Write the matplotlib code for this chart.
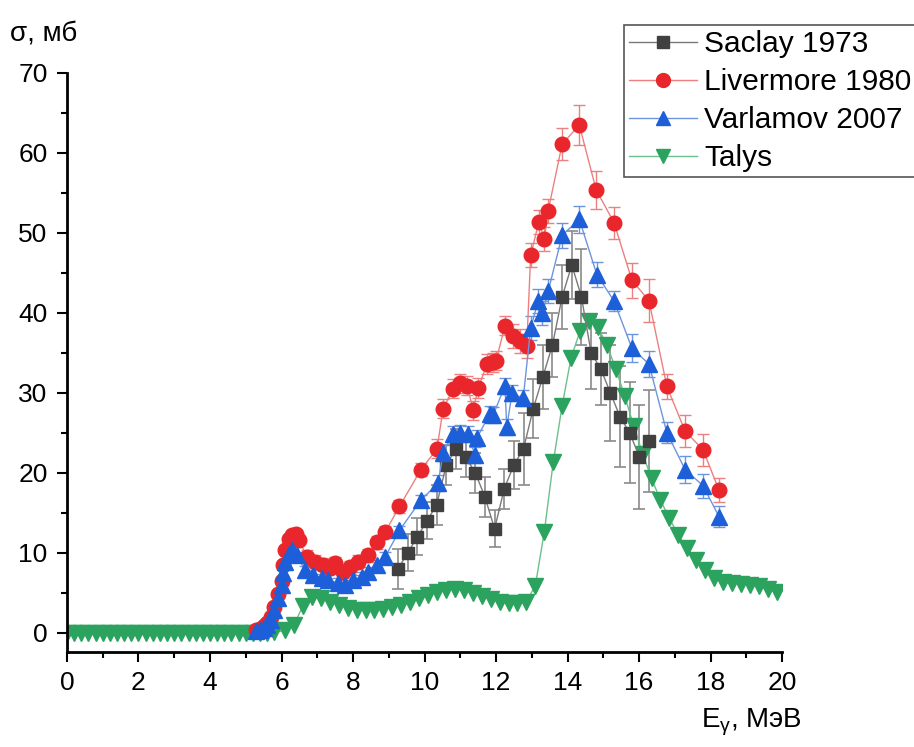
import matplotlib
matplotlib.use("Agg")
import matplotlib.pyplot as plt
from matplotlib.ticker import MultipleLocator

plt.rcParams['font.family'] = ['Liberation Sans', 'DejaVu Sans']

# Saclay 1973
saclay_e = [9.26, 9.53, 9.8, 10.07, 10.34, 10.61, 10.88, 11.15, 11.42, 11.69, 11.96,
            12.23, 12.5, 12.77, 13.04, 13.31, 13.58, 13.85, 14.12, 14.39, 14.66, 14.93,
            15.2, 15.47, 15.74, 16.01, 16.28]
saclay_s = [8, 10, 12, 14, 16, 21, 23, 22, 20, 17, 13,
            18, 21, 23, 28, 32, 36, 42, 46, 42, 35, 33,
            30, 27, 25, 22, 24]
saclay_err = [2.5, 2.3, 2.3, 2.3, 2.5, 2.5, 2.5, 2.5, 2.5, 2.5, 2.3,
              2.5, 3, 4.5, 3.7, 4, 4, 4, 4.2, 6, 4.5, 4.5,
              6, 6.3, 6.3, 6.5, 6.4]

# Livermore 1980
liv_e = [5.3, 5.4, 5.5, 5.6, 5.7, 5.8, 5.9, 6.0, 6.05, 6.1, 6.2, 6.3, 6.4, 6.5,
         6.7, 6.94, 7.17, 7.36, 7.5, 7.72, 7.92, 8.15, 8.42, 8.67, 8.9, 9.3, 9.9,
         10.35, 10.52, 10.8, 11.0, 11.2, 11.36, 11.5, 11.75, 11.92, 12.0, 12.25,
         12.48, 12.67, 12.86, 12.97, 13.2, 13.35, 13.46, 13.85, 14.33, 14.8, 15.3,
         15.8, 16.28, 16.78, 17.29, 17.79, 18.24]
liv_s = [0.3, 0.5, 0.8, 1.2, 2.0, 3.2, 4.8, 6.5, 8.5, 10.3, 11.7, 12.2, 12.4, 11.6,
         9.5, 8.9, 8.5, 8.1, 8.7, 7.6, 8.2, 8.9, 9.7, 11.3, 12.6, 15.8, 20.4,
         23.0, 28.0, 30.5, 31.2, 30.9, 27.8, 30.6, 33.6, 33.8, 34.0, 38.4,
         37.1, 36.5, 35.9, 47.2, 51.4, 49.2, 52.8, 61.1, 63.5, 55.4, 51.3,
         44.1, 41.5, 30.8, 25.2, 22.9, 17.8]
liv_err = [0.5, 0.5, 0.5, 0.5, 0.5, 0.5, 0.5, 0.5, 0.5, 0.5, 0.5, 0.5, 0.5, 0.5,
           0.8, 0.8, 0.8, 0.8, 0.8, 0.8, 0.8, 0.8, 0.8, 0.8, 0.8, 0.8, 0.8,
           1.2, 1.2, 1.2, 1.2, 1.2, 1.2, 1.2, 1.2, 1.2, 1.2, 1.2,
           1.5, 1.5, 1.5, 1.5, 1.5, 1.5, 1.5, 2.0, 2.5, 2.4, 2.0,
           2.2, 2.7, 1.6, 2.0, 2.0, 1.5]

# Varlamov 2007
var_e = [5.3, 5.4, 5.5, 5.6, 5.7, 5.8, 5.9, 6.0, 6.05, 6.1, 6.2, 6.3, 6.43,
         6.66, 6.88, 7.13, 7.3, 7.58, 7.78, 8.0, 8.25, 8.42, 8.67, 8.9, 9.3, 9.9,
         10.38, 10.52, 10.8, 11.0, 11.22, 11.41, 11.47, 11.83, 11.92, 12.25, 12.3,
         12.45, 12.76, 12.97, 13.18, 13.3, 13.46, 13.85, 14.33, 14.82, 15.3, 15.8,
         16.28, 16.78, 17.29, 17.79, 18.24]
var_s = [0.2, 0.4, 0.6, 1.0, 1.6, 2.8, 4.3, 6.0, 7.5, 8.8, 9.8, 10.3, 9.7,
         7.8, 7.2, 6.8, 6.6, 6.2, 6.0, 6.6, 7.0, 7.6, 8.5, 9.5, 12.8, 16.6,
         18.7, 22.5, 24.9, 25.0, 24.9, 22.2, 24.4, 27.4, 27.2, 30.9, 25.7,
         30.0, 29.3, 38.1, 41.5, 40.0, 42.7, 49.7, 51.7, 44.8, 41.5, 35.6,
         33.6, 25.0, 20.4, 18.4, 14.5]
var_err = [0.4, 0.4, 0.4, 0.4, 0.4, 0.4, 0.4, 0.4, 0.4, 0.4, 0.4, 0.4, 0.4,
           0.6, 0.6, 0.6, 0.6, 0.6, 0.6, 0.6, 0.6, 0.6, 0.6, 0.6, 0.6, 0.6,
           1.0, 1.0, 1.0, 1.0, 1.0, 1.0, 1.0, 1.0, 1.0, 1.0, 1.0,
           1.0, 1.0, 1.5, 1.5, 1.5, 1.5, 1.6, 1.7, 1.6, 1.3, 1.8,
           1.6, 1.3, 1.7, 1.5, 1.3]

# Talys
talys_e = [0.0, 0.2, 0.4, 0.6, 0.8, 1.0, 1.2, 1.4, 1.6, 1.8, 2.0, 2.2, 2.4, 2.6,
           2.8, 3.0, 3.2, 3.4, 3.6, 3.8, 4.0, 4.2, 4.4, 4.6, 4.8, 5.0, 5.2, 5.4,
           5.6, 5.8, 6.1, 6.35,
           6.6, 6.85, 7.1, 7.35, 7.6, 7.85, 8.1, 8.35, 8.6, 8.85, 9.1, 9.35, 9.6,
           9.85, 10.1, 10.35, 10.6, 10.85, 11.1, 11.35, 11.6, 11.85, 12.1, 12.35,
           12.6, 12.85, 13.1, 13.35, 13.6, 13.85, 14.1, 14.35, 14.6, 14.85, 15.1,
           15.35, 15.6, 15.85, 16.1, 16.35, 16.6, 16.85, 17.1, 17.35, 17.6, 17.85,
           18.1, 18.35, 18.6, 18.85, 19.1, 19.35, 19.6, 19.85]
talys_s = [0, 0, 0, 0, 0, 0, 0, 0, 0, 0, 0, 0, 0, 0,
           0, 0, 0, 0, 0, 0, 0, 0, 0, 0, 0, 0, 0, 0,
           0, 0.05, 0.3, 1.0,
           3.4, 4.5, 4.3, 3.9, 3.5, 3.1, 2.9, 2.8, 2.9, 3.0, 3.2, 3.5, 3.9,
           4.3, 4.7, 5.1, 5.4, 5.5, 5.3, 5.0, 4.6, 4.2, 3.9, 3.7,
           3.7, 3.9, 5.9, 12.6, 21.3, 28.4, 34.4, 37.7, 39.0, 38.2, 36.0,
           33.0, 29.6, 25.9, 22.4, 19.3, 16.6, 14.3, 12.2, 10.6, 9.1, 7.8,
           6.8, 6.3, 6.2, 6.1, 6.0, 5.8, 5.5, 5.1]

fig = plt.figure(figsize=(9.14, 7.47), dpi=100)
ax = fig.add_axes([0.0733, 0.1272, 0.7823, 0.7751])

h1 = ax.errorbar(saclay_e, saclay_s, yerr=saclay_err, color='#7a7a7a', lw=1.0,
                 marker='s', ms=9, mfc='#404040', mec='#404040',
                 ecolor='#8a8a8a', elinewidth=1.2, capsize=4.5, capthick=1.2,
                 label='Saclay 1973')
h2 = ax.errorbar(liv_e, liv_s, yerr=liv_err, color='#ec8080', lw=1.0,
                 marker='o', ms=10.5, mfc='#e8262b', mec='#e8262b',
                 ecolor='#ec8080', elinewidth=1.0, capsize=4.5, capthick=1.0,
                 label='Livermore 1980')
h3 = ax.errorbar(var_e, var_s, yerr=var_err, color='#6d95dd', lw=1.0,
                 marker='^', ms=11, mfc='#1d5fd8', mec='#1d5fd8',
                 ecolor='#6d95dd', elinewidth=1.0, capsize=4.5, capthick=1.0,
                 label='Varlamov 2007')
h4, = ax.plot(talys_e, talys_s, color='#6cc08c', lw=1.0,
              marker='v', ms=11, mfc='#2ca25f', mec='#2ca25f', label='Talys')

ax.set_xlim(0, 20)
ax.set_ylim(-2.4, 70)
ax.xaxis.set_major_locator(MultipleLocator(2))
ax.xaxis.set_minor_locator(MultipleLocator(1))
ax.yaxis.set_major_locator(MultipleLocator(10))
ax.yaxis.set_minor_locator(MultipleLocator(5))

for side in ['top', 'right']:
    ax.spines[side].set_visible(False)
for side in ['left', 'bottom']:
    ax.spines[side].set_linewidth(2)
ax.tick_params(which='major', direction='out', length=7, width=1.5, labelsize=19, pad=7)
ax.tick_params(which='minor', direction='out', length=4, width=1.5)

fig.text(0.011, 0.955, 'σ, мб', fontsize=20, ha='left', va='center')
fig.text(0.878, 0.033, 'E$_\\mathregular{γ}$, МэВ', fontsize=20, ha='right', va='center')

leg = ax.legend([h1[0], h2[0], h3[0], h4], ['Saclay 1973', 'Livermore 1980', 'Varlamov 2007', 'Talys'],
                loc='upper left', bbox_to_anchor=(0.6827, 0.9665), bbox_transform=fig.transFigure,
                fontsize=21.5, frameon=True, fancybox=False, framealpha=1,
                edgecolor='#555555', handlelength=2.25, handletextpad=0.25,
                borderpad=0.18, labelspacing=0.33, borderaxespad=0, markerscale=0.95)
leg.get_frame().set_linewidth(1.2)

fig.savefig('out.png', dpi=100)
